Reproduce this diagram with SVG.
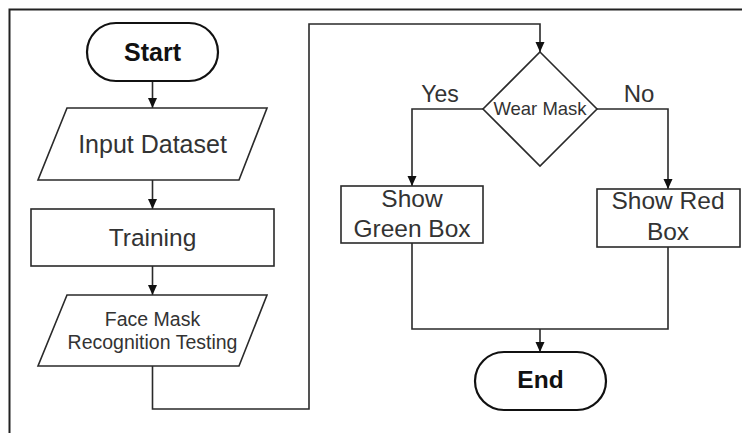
<svg xmlns="http://www.w3.org/2000/svg" width="742" height="433" viewBox="0 0 742 433">
<style>
.shape{fill:#fff;stroke:#2a2a2a;stroke-width:1.6}
.term{fill:#fff;stroke:#111;stroke-width:2.2}
.conn{fill:none;stroke:#2a2a2a;stroke-width:1.6}
.t{font-family:"Liberation Sans",Arial,sans-serif;fill:#333;text-anchor:middle}
.b{font-family:"Liberation Sans",Arial,sans-serif;fill:#111;font-weight:bold;text-anchor:middle}
</style>
<defs>
<marker id="arr" markerUnits="userSpaceOnUse" markerWidth="10" markerHeight="10" viewBox="0 0 10 10" refX="10" refY="5" orient="auto">
<path d="M0,0.5 L10,5 L0,9.5 Z" fill="#111"/>
</marker>
</defs>
<rect width="742" height="433" fill="#fff"/>
<path d="M9.5,433 V9.5 H742" fill="none" stroke="#222" stroke-width="2"/>
<g id="connectors">
<path class="conn" d="M152.5,81 V108" marker-end="url(#arr)"/>
<path class="conn" d="M152.5,180 V209" marker-end="url(#arr)"/>
<path class="conn" d="M152.5,266 V295" marker-end="url(#arr)"/>
<path class="conn" d="M152.5,366 V409 H309 V24 H540 V52" marker-end="url(#arr)"/>
<path class="conn" d="M483,109 H412 V186" marker-end="url(#arr)"/>
<path class="conn" d="M597,109 H668 V189" marker-end="url(#arr)"/>
<path class="conn" d="M412,243 V329 H668 V247"/>
<path class="conn" d="M540,329 V352" marker-end="url(#arr)"/>
</g>
<g id="start">
<rect class="term" x="87" y="23" width="131" height="58" rx="29"/>
<text class="b" x="152.5" y="61" font-size="25">Start</text>
</g>
<g id="input-dataset">
<polygon class="shape" points="67,108 267,108 239,180 38,180"/>
<text class="t" x="152.5" y="153" font-size="25">Input Dataset</text>
</g>
<g id="training">
<rect class="shape" x="31" y="209" width="243" height="57"/>
<text class="t" x="152.5" y="246" font-size="24.5">Training</text>
</g>
<g id="testing">
<polygon class="shape" points="67,295 267,295 239,366 38,366"/>
<text class="t" x="152.5" y="326" font-size="19.5">Face Mask</text>
<text class="t" x="152.5" y="349" font-size="19.5">Recognition Testing</text>
</g>
<g id="wear-mask">
<polygon class="shape" points="540,52 597,109 540,166 483,109"/>
<text class="t" x="540" y="115" font-size="18.5">Wear Mask</text>
</g>
<g id="labels">
<text class="t" x="440" y="102" font-size="23">Yes</text>
<text class="t" x="639" y="102" font-size="24">No</text>
</g>
<g id="green-box">
<rect class="shape" x="341" y="186" width="142" height="57"/>
<text class="t" x="412" y="207" font-size="24.5">Show</text>
<text class="t" x="412" y="237" font-size="24.5">Green Box</text>
</g>
<g id="red-box">
<rect class="shape" x="597" y="189" width="143" height="58"/>
<text class="t" x="668" y="209" font-size="24.5">Show Red</text>
<text class="t" x="668" y="240" font-size="24.5">Box</text>
</g>
<g id="end">
<rect class="term" x="475" y="352" width="131" height="58" rx="29"/>
<text class="b" x="540.5" y="388" font-size="24.5">End</text>
</g>
</svg>
